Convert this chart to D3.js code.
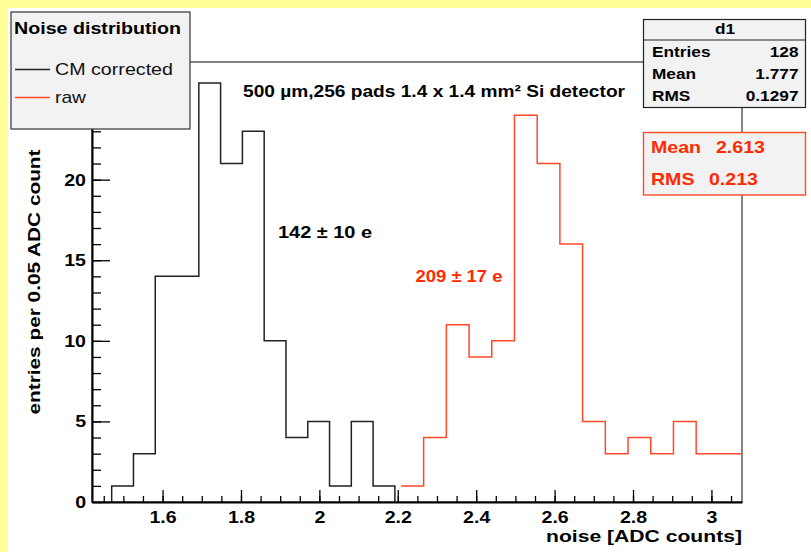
<!DOCTYPE html>
<html>
<head>
<meta charset="utf-8">
<script src="https://cdn.jsdelivr.net/npm/d3@7"></script>
<style>
  html,body{margin:0;padding:0;background:#ffff99;}
  svg{display:block;}
  text{font-family:"Liberation Sans",Arial,Helvetica,sans-serif;}
</style>
</head>
<body>
<svg id="chart" width="811" height="552"></svg>
<script>
// ---- data ----
const xDomain = [1.42, 3.078];
const yMax = 27.3;
const cmStart = 1.4702, cmWidth = 0.05557;
const cmCounts = [1, 3, 14, 14, 26, 21, 23, 10, 4, 5, 1, 5, 1];
const rawStart = 2.208, rawWidth = 0.05793;
const rawCounts = [1, 4, 11, 9, 10, 24, 21, 16, 5, 3, 4, 3, 5, 3, 3];
const xMajorTicks = [1.6, 1.8, 2, 2.2, 2.4, 2.6, 2.8, 3];
const yMajorTicks = [0, 5, 10, 15, 20, 25];
const yHiddenLabels = [25]; // covered by the legend in the reference
const legendTitle = "Noise distribution";
const legendLabels = ["CM corrected", "raw"];
const statsName = "d1";
const statsRows = [["Entries", "128"], ["Mean", "1.777"], ["RMS", "0.1297"]];
const rawStats = [["Mean", "2.613"], ["RMS", "0.213"]];

const BLACK = "#222", RED = "#ff4a2a", REDTXT = "#ff2a00";
const svg = d3.select("#chart");

// pad
svg.append("rect").attr("x", 8).attr("y", 8).attr("width", 803).attr("height", 544).attr("fill", "#fff");

const x = d3.scaleLinear().domain(xDomain).range([92, 742]);
const y = d3.scaleLinear().domain([0, yMax]).range([502, 62]);

// frame
svg.append("rect").attr("x", 92).attr("y", 62).attr("width", 650).attr("height", 440)
  .attr("fill", "none").attr("stroke", "#333").attr("stroke-width", 1.2);

// histogram paths
function histPath(start, width, counts, fromBase, toBase) {
  let p = "";
  const x0 = x(start);
  if (fromBase) p += `M${x0},${y(0)}V${y(counts[0])}`;
  else p += `M${x0},${y(counts[0])}`;
  counts.forEach((c, i) => {
    if (i > 0) p += `V${y(c)}`;
    p += `H${x(start + (i + 1) * width)}`;
  });
  if (toBase) p += `V${y(0)}`;
  return p;
}
svg.append("path").attr("d", histPath(cmStart, cmWidth, cmCounts, true, true))
  .attr("fill", "none").attr("stroke", BLACK).attr("stroke-width", 1.5);
svg.append("path").attr("d", histPath(rawStart, rawWidth, rawCounts, false, false))
  .attr("fill", "none").attr("stroke", RED).attr("stroke-width", 1.5);

// axes
const xMinor = d3.range(1.45, 3.06, 0.05).map(v => +v.toFixed(2));
const yMinor = d3.range(0, 28, 1);
const gx = svg.append("g").attr("transform", "translate(0,502)");
gx.call(d3.axisBottom(x).tickValues([]).tickSizeOuter(0));
gx.append("g").call(d3.axisBottom(x).tickValues(xMinor).tickSize(-6).tickFormat("").tickSizeOuter(0))
  .call(g => g.select(".domain").remove());
gx.append("g").call(d3.axisBottom(x).tickValues(xMajorTicks).tickSize(-12).tickPadding(9).tickSizeOuter(0)
  .tickFormat(d => d3.format("")(d)))
  .call(g => g.select(".domain").remove());
gx.selectAll(".domain").attr("stroke", "#000").attr("stroke-width", 2);
gx.selectAll("line").attr("stroke", "#000").attr("stroke-width", 1.3);
gx.selectAll("text").attr("font-size", 17).attr("font-weight", "bold").attr("fill", "#000")
  .attr("class", "stretch");

const gy = svg.append("g").attr("transform", "translate(92,0)");
gy.call(d3.axisLeft(y).tickValues([]).tickSizeOuter(0));
gy.append("g").call(d3.axisLeft(y).tickValues(yMinor).tickSize(-9).tickFormat("").tickSizeOuter(0))
  .call(g => g.select(".domain").remove());
gy.append("g").call(d3.axisLeft(y).tickValues(yMajorTicks).tickSize(-18).tickPadding(6).tickSizeOuter(0)
  .tickFormat(d => yHiddenLabels.includes(d) ? "" : d))
  .call(g => g.select(".domain").remove());
gy.selectAll(".domain").attr("stroke", "#000").attr("stroke-width", 2);
gy.selectAll("line").attr("stroke", "#000").attr("stroke-width", 1.3);
gy.selectAll("text").attr("font-size", 17).attr("font-weight", "bold").attr("fill", "#000")
  .attr("class", "stretch");

// axis titles
svg.append("text").attr("x", 742).attr("y", 542).attr("text-anchor", "end")
  .attr("font-size", 17).attr("font-weight", "bold").attr("fill", "#000")
  .attr("data-len", 196).text("noise [ADC counts]");
svg.append("text").attr("transform", "translate(40,282) rotate(-90)").attr("text-anchor", "middle")
  .attr("font-size", 17).attr("font-weight", "bold").attr("fill", "#000")
  .attr("data-len", 265).text("entries per 0.05 ADC count");

// annotations
svg.append("text").attr("x", 243).attr("y", 97).attr("font-size", 16).attr("font-weight", "bold")
  .attr("fill", "#000").attr("data-len", 382).text("500 \u00b5m,256 pads 1.4 x 1.4 mm\u00b2 Si detector");
svg.append("text").attr("x", 278).attr("y", 238).attr("font-size", 16).attr("font-weight", "bold")
  .attr("fill", "#000").attr("data-len", 94).text("142 \u00b1 10 e");
svg.append("text").attr("x", 415.5).attr("y", 282).attr("font-size", 16).attr("font-weight", "bold")
  .attr("fill", REDTXT).attr("data-len", 87).text("209 \u00b1 17 e");

// legend
const lg = svg.append("g");
lg.append("rect").attr("x", 11).attr("y", 12).attr("width", 179).attr("height", 117)
  .attr("fill", "#f2f2f2").attr("stroke", "#333").attr("stroke-width", 1.2);
lg.append("text").attr("x", 14).attr("y", 34).attr("font-size", 17).attr("font-weight", "bold")
  .attr("fill", "#000").attr("data-len", 167).text(legendTitle);
const legendColors = [BLACK, RED];
const legendLens = [118, 31];
legendLabels.forEach((lab, i) => {
  const yy = 69.5 + i * 28;
  lg.append("line").attr("x1", 15).attr("x2", 50).attr("y1", yy).attr("y2", yy)
    .attr("stroke", legendColors[i]).attr("stroke-width", 1.5);
  lg.append("text").attr("x", 55).attr("y", yy + 5.5).attr("font-size", 17)
    .attr("fill", "#111").attr("data-len", legendLens[i]).text(lab);
});

// stats box d1
const sb = svg.append("g");
sb.append("rect").attr("x", 643.5).attr("y", 19.5).attr("width", 162).attr("height", 88)
  .attr("fill", "#f2f2f2").attr("stroke", "#222").attr("stroke-width", 1.2);
sb.append("line").attr("x1", 643.5).attr("x2", 805.5).attr("y1", 40).attr("y2", 40)
  .attr("stroke", "#222").attr("stroke-width", 1.2);
sb.append("text").attr("x", 725).attr("y", 34).attr("text-anchor", "middle")
  .attr("font-size", 15).attr("font-weight", "bold").attr("fill", "#000").attr("class", "stretch").text(statsName);
statsRows.forEach((r, i) => {
  const yy = 57 + i * 22;
  sb.append("text").attr("x", 652).attr("y", yy).attr("font-size", 15).attr("font-weight", "bold")
    .attr("fill", "#000").attr("class", "stretch").text(r[0]);
  sb.append("text").attr("x", 798.5).attr("y", yy).attr("text-anchor", "end").attr("font-size", 15)
    .attr("font-weight", "bold").attr("fill", "#000").attr("class", "stretch").text(r[1]);
});

// raw stats box
const rb = svg.append("g");
rb.append("rect").attr("x", 643.5).attr("y", 132.5).attr("width", 162).attr("height", 62.5)
  .attr("fill", "#f2f2f2").attr("stroke", RED).attr("stroke-width", 1.4);
const rawValX = [716, 709];
rawStats.forEach((r, i) => {
  const yy = 153 + i * 31.5;
  rb.append("text").attr("x", 651).attr("y", yy).attr("font-size", 17).attr("font-weight", "bold")
    .attr("fill", REDTXT).attr("class", "stretch").text(r[0]);
  rb.append("text").attr("x", rawValX[i]).attr("y", yy).attr("font-size", 17).attr("font-weight", "bold")
    .attr("fill", REDTXT).attr("class", "stretch").text(r[1]);
});

// horizontal stretch to match the reference's wide glyphs
svg.selectAll("text").each(function () {
  const el = d3.select(this);
  const target = el.attr("data-len");
  if (target) {
    el.attr("textLength", +target).attr("lengthAdjust", "spacingAndGlyphs");
  } else if (el.classed("stretch")) {
    const l = this.getComputedTextLength();
    if (l > 0) el.attr("textLength", l * 1.15).attr("lengthAdjust", "spacingAndGlyphs");
  }
});
</script>
</body>
</html>
